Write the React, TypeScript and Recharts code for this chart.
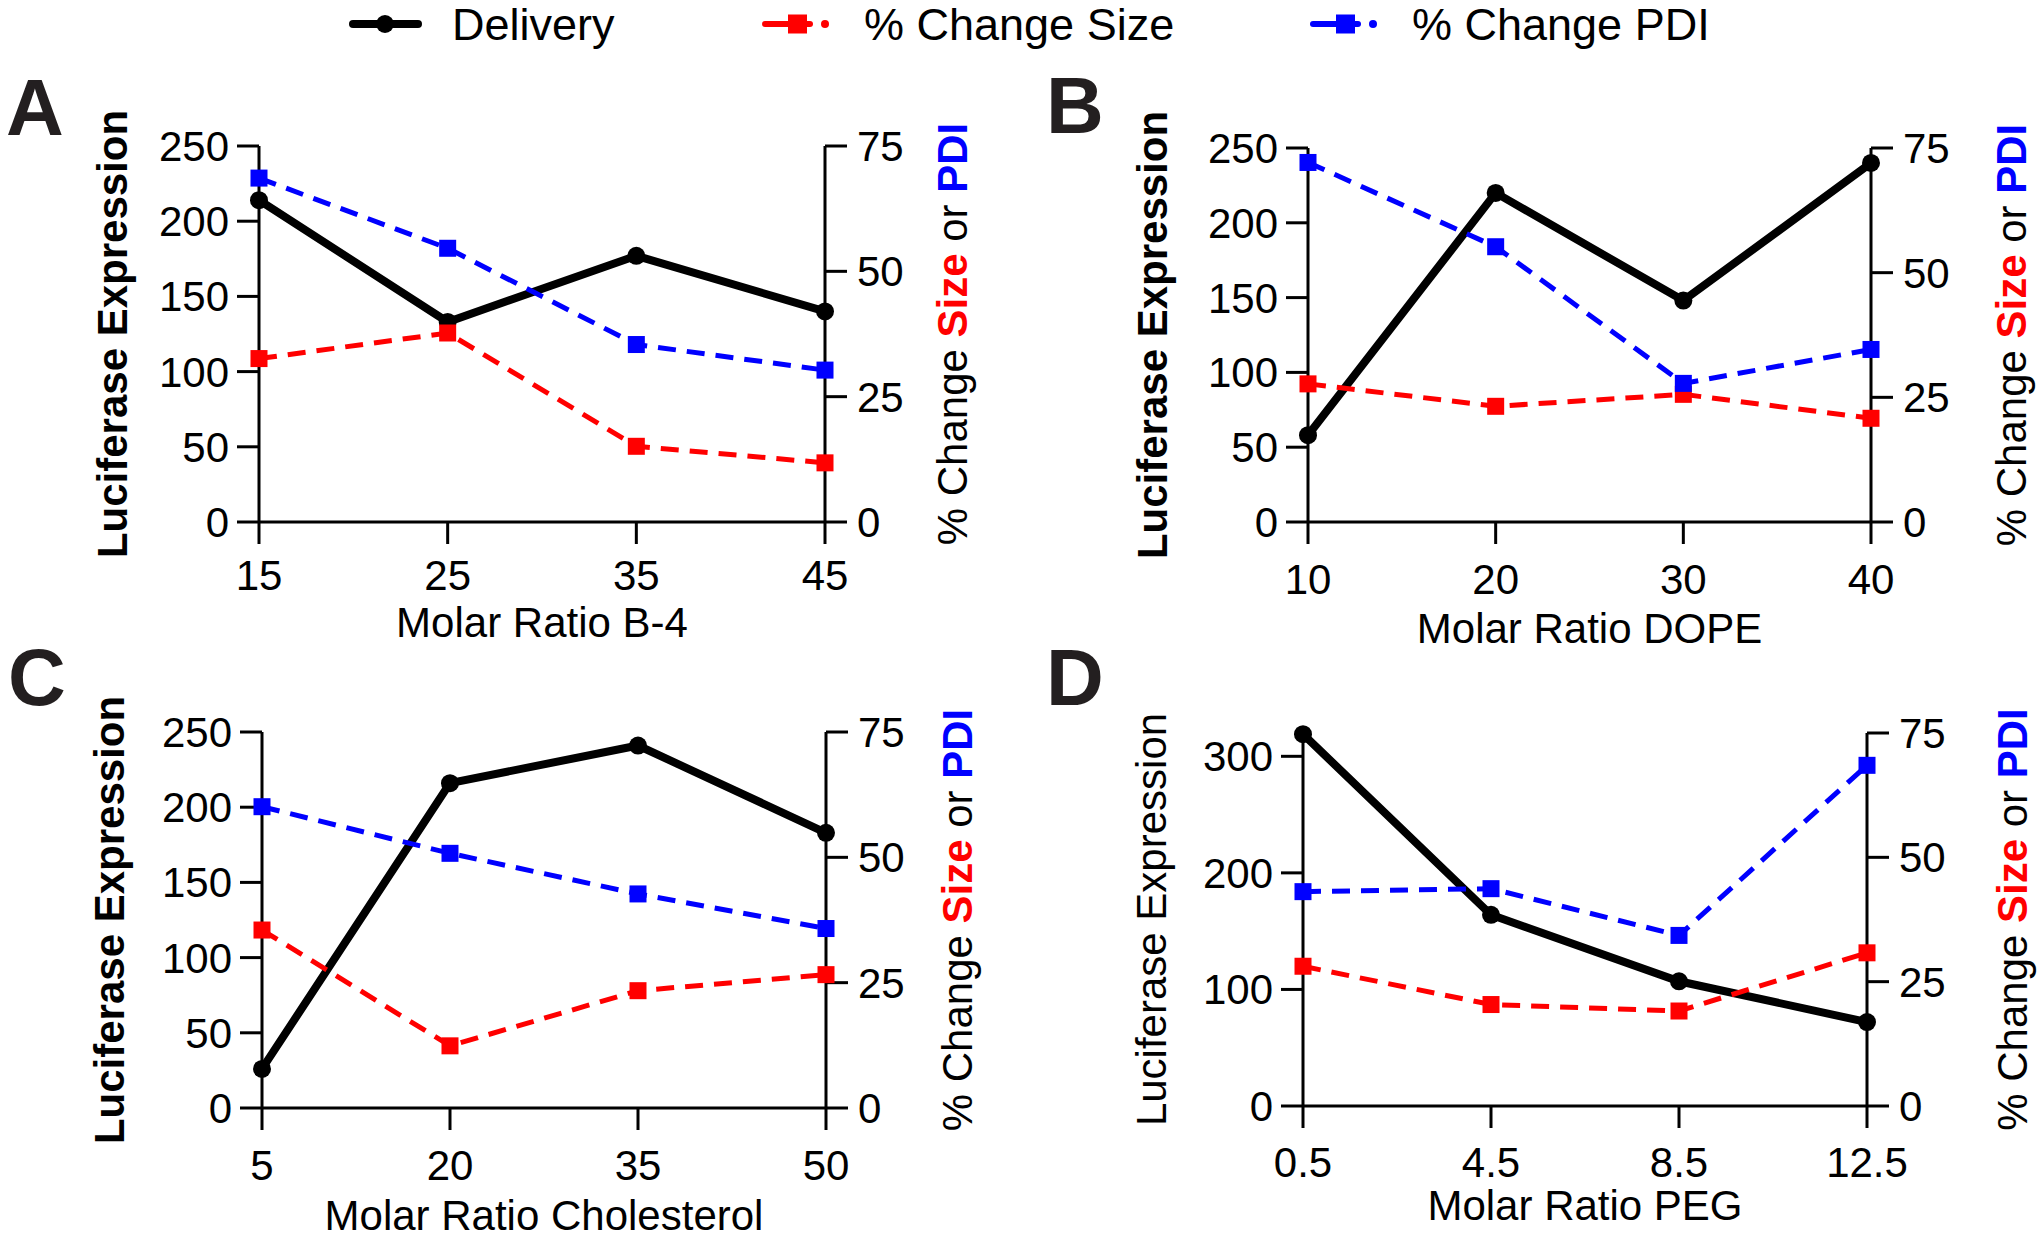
import { Line, LineChart, XAxis, YAxis } from 'recharts';

const FONT = "'Liberation Sans', Arial, Helvetica, sans-serif";

const seriesNames = ['Delivery', '% Change Size', '% Change PDI'];
const seriesColors = ['#000000', '#ff0000', '#0000ff'];

const xB4 = [15, 25, 35, 45];
const deliveryA = [214, 133, 177, 140];
const sizeA = [32.6, 37.7, 15.1, 11.8];
const pdiA = [68.6, 54.6, 35.4, 30.3];

const xDOPE = [10, 20, 30, 40];
const deliveryB = [58, 220, 148, 240];
const sizeB = [27.7, 23.2, 25.6, 20.8];
const pdiB = [72.1, 55.2, 27.8, 34.6];

const xChol = [5, 20, 35, 50];
const deliveryC = [26, 216, 241, 183];
const sizeC = [35.5, 12.4, 23.4, 26.6];
const pdiC = [60.1, 50.8, 42.7, 35.8];

const xPEG = [0.5, 4.5, 8.5, 12.5];
const deliveryD = [319, 164, 107, 72];
const sizeD = [28.1, 20.4, 19.1, 30.8];
const pdiD = [43.1, 43.7, 34.3, 68.5];

const leftTicks = [0, 50, 100, 150, 200, 250];
const leftTicksPEG = [0, 100, 200, 300];
const rightTicks = [0, 25, 50, 75];

const squareDot = (color: string) => (p: any) => (
  <rect key={`sq-${p.index}`} x={p.cx - 8.5} y={p.cy - 8.5} width={17} height={17} fill={color} />
);

interface PanelProps {
  xs: number[];
  delivery: number[];
  size: number[];
  pdi: number[];
  xTitle: string;
  left: number;
  top: number;
  height: number;
  marginTop: number;
  leftW: number;
  rightW: number;
  bottomH: number;
  leftDomain: number[];
  yTicks: number[];
  xTickMargin: number;
  xTitleOffset: number;
  leftLabelOffset: number;
  rightLabelOffset: number;
  boldLeft: boolean;
}

function Panel(p: PanelProps) {
  const data = p.xs.map((x, i) => ({ x, delivery: p.delivery[i], size: p.size[i], pdi: p.pdi[i] }));
  const tickStyle = { fill: '#000', fontSize: 42, fontFamily: FONT };

  const leftLabel = ({ viewBox }: any) => {
    const x = viewBox.x + viewBox.width - p.leftLabelOffset;
    const y = viewBox.y + viewBox.height / 2;
    return (
      <text
        transform={`translate(${x},${y}) rotate(-90)`}
        textAnchor="middle"
        fontSize={42}
        fontFamily={FONT}
        fontWeight={p.boldLeft ? 'bold' : 'normal'}
        fill="#000"
      >
        Luciferase Expression
      </text>
    );
  };

  const rightLabel = ({ viewBox }: any) => {
    const x = viewBox.x + p.rightLabelOffset;
    const y = viewBox.y + viewBox.height / 2;
    return (
      <text transform={`translate(${x},${y}) rotate(-90)`} textAnchor="middle" fontSize={42} fontFamily={FONT} fill="#000">
        <tspan>% Change </tspan>
        <tspan fill="#ff0000" fontWeight="bold">Size</tspan>
        <tspan> or </tspan>
        <tspan fill="#0000ff" fontWeight="bold">PDI</tspan>
      </text>
    );
  };

  const xLabel = ({ viewBox }: any) => (
    <text
      x={viewBox.x + viewBox.width / 2}
      y={viewBox.y + p.xTitleOffset}
      textAnchor="middle"
      fontSize={42}
      fontFamily={FONT}
      fill="#000"
    >
      {p.xTitle}
    </text>
  );

  return (
    <div style={{ position: 'absolute', left: p.left, top: p.top }}>
      <LineChart width={1020} height={p.height} data={data} margin={{ top: p.marginTop, right: 0, bottom: 0, left: 0 }}>
        <XAxis
          dataKey="x"
          type="number"
          domain={[p.xs[0], p.xs[p.xs.length - 1]]}
          ticks={p.xs}
          height={p.bottomH}
          tickSize={22}
          tickMargin={p.xTickMargin}
          stroke="#000"
          strokeWidth={3}
          tick={tickStyle}
          label={{ content: xLabel }}
        />
        <YAxis
          yAxisId="left"
          domain={p.leftDomain}
          ticks={p.yTicks}
          width={p.leftW}
          tickSize={22}
          tickMargin={8}
          stroke="#000"
          strokeWidth={3}
          tick={tickStyle}
          label={{ content: leftLabel }}
        />
        <YAxis
          yAxisId="right"
          orientation="right"
          domain={[0, 75]}
          ticks={rightTicks}
          width={p.rightW}
          tickSize={22}
          tickMargin={10}
          stroke="#000"
          strokeWidth={3}
          tick={tickStyle}
          label={{ content: rightLabel }}
        />
        <Line
          yAxisId="left"
          dataKey="delivery"
          stroke="#000"
          strokeWidth={8}
          dot={{ r: 9, fill: '#000', stroke: '#000', strokeWidth: 0 }}
          isAnimationActive={false}
        />
        <Line
          yAxisId="right"
          dataKey="size"
          stroke="#ff0000"
          strokeWidth={5}
          strokeDasharray="18 11"
          dot={squareDot('#ff0000')}
          isAnimationActive={false}
        />
        <Line
          yAxisId="right"
          dataKey="pdi"
          stroke="#0000ff"
          strokeWidth={5}
          strokeDasharray="18 11"
          dot={squareDot('#0000ff')}
          isAnimationActive={false}
        />
      </LineChart>
    </div>
  );
}

function LegendRow() {
  const items = [
    { lineX: 353, textX: 452 },
    { lineX: 765, textX: 864 },
    { lineX: 1313, textX: 1412 },
  ];
  return (
    <svg width={2040} height={60} style={{ position: 'absolute', left: 0, top: 0 }}>
      {items.map((it, i) => {
        const c = seriesColors[i];
        const y = 24;
        return (
          <g key={seriesNames[i]}>
            {i === 0 ? (
              <>
                <line x1={it.lineX} x2={it.lineX + 65} y1={y} y2={y} stroke={c} strokeWidth={8} strokeLinecap="round" />
                <circle cx={it.lineX + 32} cy={y} r={9} fill={c} />
              </>
            ) : (
              <>
                <line x1={it.lineX} x2={it.lineX + 45} y1={y} y2={y} stroke={c} strokeWidth={6} strokeLinecap="round" />
                <rect x={it.lineX + 23} y={y - 9.5} width={19} height={19} fill={c} />
                <circle cx={it.lineX + 60} cy={y} r={4} fill={c} />
              </>
            )}
            <text x={it.textX} y={y + 16} fontSize={45} fontFamily={FONT} fill="#000">
              {seriesNames[i]}
            </text>
          </g>
        );
      })}
    </svg>
  );
}

function Letters() {
  const letters = [
    { t: 'A', x: 6, y: 135 },
    { t: 'B', x: 1046, y: 133 },
    { t: 'C', x: 8, y: 705 },
    { t: 'D', x: 1046, y: 705 },
  ];
  return (
    <svg width={2040} height={1238} style={{ position: 'absolute', left: 0, top: 0, pointerEvents: 'none' }}>
      {letters.map((l) => (
        <text key={l.t} x={l.x} y={l.y} fontSize={80} fontWeight="bold" fontFamily={FONT} fill="#231f20">
          {l.t}
        </text>
      ))}
    </svg>
  );
}

export default function App() {
  return (
    <div style={{ position: 'absolute', left: 0, top: 0, width: 2040, height: 1238, background: '#fff', overflow: 'hidden' }}>
      <LegendRow />
      <Panel
        xs={xB4} delivery={deliveryA} size={sizeA} pdi={pdiA} xTitle="Molar Ratio B-4"
        left={0} top={60} height={600} marginTop={86} leftW={259} rightW={195} bottomH={138}
        leftDomain={[0, 250]} yTicks={leftTicks} xTickMargin={16} xTitleOffset={115}
        leftLabelOffset={132} rightLabelOffset={142} boldLeft
      />
      <Panel
        xs={xDOPE} delivery={deliveryB} size={sizeB} pdi={pdiB} xTitle="Molar Ratio DOPE"
        left={1020} top={60} height={600} marginTop={88} leftW={288} rightW={169} bottomH={138}
        leftDomain={[0, 250]} yTicks={leftTicks} xTickMargin={20} xTitleOffset={121}
        leftLabelOffset={141} rightLabelOffset={155} boldLeft
      />
      <Panel
        xs={xChol} delivery={deliveryC} size={sizeC} pdi={pdiC} xTitle="Molar Ratio Cholesterol"
        left={0} top={650} height={588} marginTop={82} leftW={262} rightW={194} bottomH={130}
        leftDomain={[0, 250]} yTicks={leftTicks} xTickMargin={20} xTitleOffset={122}
        leftLabelOffset={138} rightLabelOffset={146} boldLeft
      />
      <Panel
        xs={xPEG} delivery={deliveryD} size={sizeD} pdi={pdiD} xTitle="Molar Ratio PEG"
        left={1020} top={650} height={588} marginTop={83} leftW={283} rightW={173} bottomH={132}
        leftDomain={[0, 320]} yTicks={leftTicksPEG} xTickMargin={19} xTitleOffset={114}
        leftLabelOffset={137} rightLabelOffset={160} boldLeft={false}
      />
      <Letters />
    </div>
  );
}
